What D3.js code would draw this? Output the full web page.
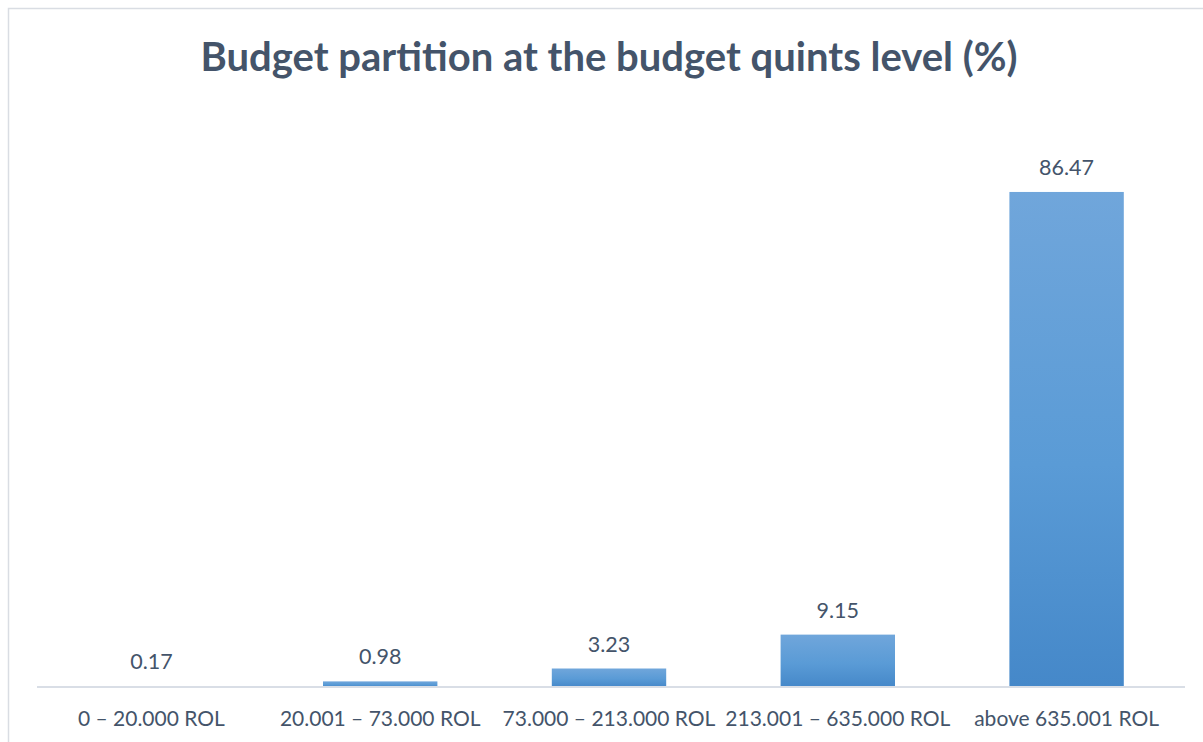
<!DOCTYPE html>
<html>
<head>
<meta charset="utf-8">
<script src="https://cdn.jsdelivr.net/npm/d3@7/dist/d3.min.js"></script>
<style>
  html, body { margin: 0; padding: 0; background: #fff; }
  svg { display: block; }
</style>
</head>
<body>
<svg id="chart" width="1203" height="742"></svg>
<script>
// Budget quint ranges and their share of the total budget (%)
const categories = [
  "0 – 20.000 ROL",
  "20.001 – 73.000 ROL",
  "73.000 – 213.000 ROL",
  "213.001 – 635.000 ROL",
  "above 635.001 ROL"
];
const shares = [0.17, 0.98, 3.23, 9.15, 86.47];
const shareLabels = ["0.17", "0.98", "3.23", "9.15", "86.47"];

const W = 1203, H = 742;
const svg = d3.select("#chart");
const textColor = "#44546A";
const fontFamily = "Lato, 'Open Sans', sans-serif";

// chart frame
svg.append("rect")
  .attr("x", 8.5).attr("y", 8.5)
  .attr("width", W + 20).attr("height", H + 20)
  .attr("fill", "#fff")
  .attr("stroke", "#D9DDE3")
  .attr("stroke-width", 1.5);

// vertical bar gradient, lighter at the top
const defs = svg.append("defs");
const grad = defs.append("linearGradient")
  .attr("id", "barFill")
  .attr("x1", 0).attr("y1", 0).attr("x2", 0).attr("y2", 1);
grad.append("stop").attr("offset", "0%").attr("stop-color", "#70A6DB");
grad.append("stop").attr("offset", "55%").attr("stop-color", "#5A9BD6");
grad.append("stop").attr("offset", "100%").attr("stop-color", "#4588C9");

const plot = { left: 37, right: 1185, top: 114.5, bottom: 687 };

const x = d3.scaleBand()
  .domain(categories)
  .range([plot.left, plot.right - 4])
  .paddingInner(0.5)
  .paddingOuter(0.25);

const y = d3.scaleLinear()
  .domain([0, 100])
  .range([plot.bottom, plot.top]);

// title
svg.append("text")
  .attr("x", 609)
  .attr("y", 71)
  .attr("text-anchor", "middle")
  .attr("font-family", fontFamily)
  .attr("font-weight", "bold")
  .attr("font-size", 40)
  .attr("fill", textColor)
  .text("Budget partition at the budget quints level (%)");

// bars
svg.append("g")
  .selectAll("rect")
  .data(shares)
  .join("rect")
  .attr("x", (d, i) => x(categories[i]))
  .attr("y", d => y(d))
  .attr("width", x.bandwidth())
  .attr("height", d => y(0) - y(d))
  .attr("fill", "url(#barFill)");

// value labels above bars
svg.append("g")
  .selectAll("text")
  .data(shares)
  .join("text")
  .attr("x", (d, i) => x(categories[i]) + x.bandwidth() / 2)
  .attr("y", d => y(d) - 17)
  .attr("text-anchor", "middle")
  .attr("font-family", fontFamily)
  .attr("font-size", 21.5)
  .attr("fill", textColor)
  .text((d, i) => shareLabels[i]);

// category axis
const xAxis = svg.append("g")
  .attr("transform", `translate(0,${plot.bottom})`)
  .call(d3.axisBottom(x).tickSize(0).tickPadding(24).tickSizeOuter(0));
xAxis.select(".domain")
  .attr("d", `M${plot.left},0H${plot.right}`)
  .attr("stroke", "#D9DEE6")
  .attr("stroke-width", 2);
xAxis.selectAll(".tick text")
  .attr("font-family", fontFamily)
  .attr("font-size", 21)
  .attr("fill", textColor);
</script>
</body>
</html>
